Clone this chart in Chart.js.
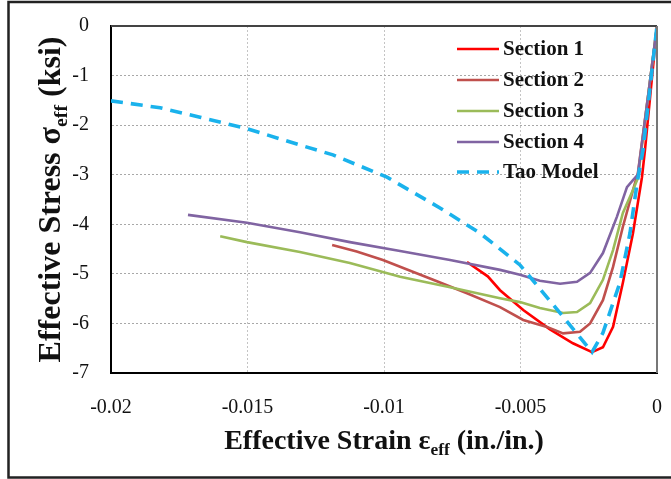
<!DOCTYPE html>
<html><head><meta charset="utf-8">
<script src="https://cdn.jsdelivr.net/npm/chart.js@4.4.1/dist/chart.umd.min.js"></script>
<style>
html,body{margin:0;padding:0;background:#fff;}
canvas{display:block;}
</style></head><body>
<canvas id="c" width="671" height="479"></canvas>
<script>
// ---- data ----
const seriesNames = ['Section 1', 'Section 2', 'Section 3', 'Section 4', 'Tao Model'];

const s1x = [-0.00696, -0.0062, -0.00575, -0.0049, -0.00392, -0.00308, -0.00238, -0.00198, -0.00161, -0.00125, -0.00088, -0.00055, -0.00044, -0.00022, 0];
const s1y = [-4.76, -5.05, -5.33, -5.73, -6.12, -6.40, -6.58, -6.48, -6.07, -5.18, -4.18, -3.05, -2.50, -1.25, 0];

const s2x = [-0.0119, -0.011, -0.01004, -0.0082, -0.00696, -0.00575, -0.0049, -0.00403, -0.00344, -0.00282, -0.00245, -0.00198, -0.00161, -0.00125, -0.00088, -0.0007, -0.0003, 0];
const s2y = [-4.42, -4.55, -4.72, -5.12, -5.39, -5.67, -5.93, -6.07, -6.20, -6.17, -6.00, -5.53, -4.86, -4.05, -3.31, -2.97, -1.30, 0];

const s3x = [-0.016, -0.01502, -0.01308, -0.01125, -0.00941, -0.00758, -0.00575, -0.00502, -0.00429, -0.00344, -0.00293, -0.00245, -0.00198, -0.00161, -0.00125, -0.00088, -0.0007, -0.0003, 0];
const s3y = [-4.24, -4.36, -4.56, -4.78, -5.06, -5.27, -5.49, -5.57, -5.69, -5.79, -5.77, -5.59, -5.12, -4.52, -3.77, -3.31, -3.07, -1.30, 0];

const s4x = [-0.01718, -0.01502, -0.01308, -0.01125, -0.00941, -0.00758, -0.00575, -0.00502, -0.00429, -0.00355, -0.00293, -0.00245, -0.00198, -0.00147, -0.0011, -0.00088, -0.0007, -0.0003, 0];
const s4y = [-3.81, -3.97, -4.16, -4.36, -4.54, -4.72, -4.92, -5.02, -5.14, -5.20, -5.16, -4.98, -4.58, -3.85, -3.25, -3.11, -3.00, -1.30, 0];

const taoX = [-0.02, -0.0182, -0.01674, -0.01509, -0.01308, -0.01187, -0.00989, -0.00795, -0.00648, -0.00502, -0.0037, -0.00238, -0.00198, -0.00136, -0.00099, -0.00073, -0.00051, 0];
const taoY = [-1.51, -1.65, -1.84, -2.06, -2.40, -2.60, -3.05, -3.67, -4.18, -4.82, -5.69, -6.58, -6.19, -5.18, -4.18, -3.17, -2.50, 0];

const xTickValues = [-0.02, -0.015, -0.01, -0.005, 0];
const xTickLabels = ['-0.02', '-0.015', '-0.01', '-0.005', '0'];
const yTickValues = [0, -1, -2, -3, -4, -5, -6, -7];
const yTickLabels = ['0', '-1', '-2', '-3', '-4', '-5', '-6', '-7'];

// ---- build ----
const colors = ['#FF0000', '#C0504D', '#9BBB59', '#8064A2', '#1AB2EC'];
const xs = [s1x, s2x, s3x, s4x, taoX];
const ys = [s1y, s2y, s3y, s4y, taoY];
const datasets = seriesNames.map((name, i) => ({
  label: name,
  data: xs[i].map((x, k) => ({x: x, y: ys[i][k]})),
  borderColor: colors[i],
  backgroundColor: colors[i],
  borderWidth: i === 4 ? 3.6 : 2.6,
  borderDash: i === 4 ? [12, 8] : [],
  showLine: true,
  pointRadius: 0,
  tension: 0,
  order: 5 - i
}));

const SERIF = "'Liberation Serif', 'Times New Roman', serif";

function drawRich(ctx, segs, size, cx, baseY, rotate) {
  ctx.save();
  ctx.translate(cx, baseY);
  if (rotate) ctx.rotate(-Math.PI / 2);
  let total = 0;
  segs.forEach(s => {
    ctx.font = 'bold ' + (s.sub ? size * 0.62 : size) + 'px ' + SERIF;
    s.w = ctx.measureText(s.t).width;
    total += s.w;
  });
  let x = -total / 2;
  ctx.fillStyle = '#111';
  ctx.textBaseline = 'alphabetic';
  ctx.textAlign = 'left';
  segs.forEach(s => {
    ctx.font = 'bold ' + (s.sub ? size * 0.62 : size) + 'px ' + SERIF;
    ctx.fillText(s.t, x, s.sub ? size * 0.22 : 0);
    x += s.w;
  });
  ctx.restore();
}

const decor = {
  id: 'decor',
  afterDraw(chart) {
    const ctx = chart.ctx;
    const a = chart.chartArea;
    ctx.save();
    ctx.lineWidth = 2;
    ctx.strokeStyle = '#444';
    ctx.beginPath(); ctx.moveTo(a.left, a.top); ctx.lineTo(a.right, a.top); ctx.stroke();
    ctx.strokeStyle = '#777';
    ctx.beginPath(); ctx.moveTo(a.right, a.top); ctx.lineTo(a.right, a.bottom); ctx.stroke();
    ctx.strokeStyle = '#222';
    ctx.lineWidth = 2.5;
    ctx.beginPath();
    ctx.moveTo(671, 2); ctx.lineTo(8.5, 2); ctx.lineTo(8.5, 477.5); ctx.lineTo(671, 477.5);
    ctx.stroke();
    ctx.restore();

    ctx.save();
    const rows = [49, 80, 111, 142, 172];
    chart.data.datasets.forEach((ds, i) => {
      const y = rows[i];
      ctx.strokeStyle = ds.borderColor;
      ctx.lineWidth = ds.borderWidth;
      ctx.setLineDash(ds.borderDash || []);
      ctx.beginPath(); ctx.moveTo(457, y); ctx.lineTo(499, y); ctx.stroke();
      ctx.setLineDash([]);
      ctx.fillStyle = '#111';
      ctx.font = 'bold 21px ' + SERIF;
      ctx.textBaseline = 'middle';
      ctx.textAlign = 'left';
      ctx.fillText(ds.label, 503, y + 1);
    });
    ctx.restore();

    drawRich(ctx, [{t: 'Effective Strain \u03b5'}, {t: 'eff', sub: true}, {t: ' (in./in.)'}], 28,
      (a.left + a.right) / 2, 449, false);
    drawRich(ctx, [{t: 'Effective Stress \u03c3'}, {t: 'eff', sub: true}, {t: ' (ksi)'}], 32,
      60, (a.top + a.bottom) / 2, true);
  }
};

new Chart(document.getElementById('c'), {
  type: 'scatter',
  data: {datasets: datasets},
  options: {
    responsive: false,
    animation: false,
    devicePixelRatio: 1,
    layout: {padding: {left: 0, top: 26, right: 14, bottom: 0}},
    plugins: {legend: {display: false}, tooltip: {enabled: false}},
    scales: {
      x: {
        type: 'linear', min: -0.02, max: 0,
        afterBuildTicks: (s) => { s.ticks = xTickValues.map(v => ({value: v})); },
        afterFit: (s) => { s.height = 106; s.paddingLeft = 0; s.paddingRight = 0; },
        ticks: {
          callback: (v) => { const i = xTickValues.findIndex(t => Math.abs(t - v) < 1e-9); return i >= 0 ? xTickLabels[i] : ''; },
          font: {family: SERIF, size: 20}, color: '#111', padding: 23, maxRotation: 0, autoSkip: false
        },
        grid: {color: '#c4c4c4', lineWidth: 1, drawTicks: false},
        border: {display: true, color: '#000', width: 2, dash: [2, 2]},
        title: {display: false}
      },
      y: {
        type: 'linear', min: -7, max: 0,
        afterBuildTicks: (s) => { s.ticks = yTickValues.map(v => ({value: v})); },
        afterFit: (s) => { s.width = 111; s.paddingTop = 0; s.paddingBottom = 0; },
        ticks: {
          callback: (v) => { const i = yTickValues.findIndex(t => Math.abs(t - v) < 1e-9); return i >= 0 ? yTickLabels[i] : ''; },
          font: {family: SERIF, size: 20}, color: '#111', padding: 22
        },
        grid: {color: '#a8a8a8', lineWidth: 1, drawTicks: false},
        border: {display: true, color: '#000', width: 2, dash: [2, 2]},
        title: {display: false}
      }
    }
  },
  plugins: [decor]
});
</script>
</body></html>
